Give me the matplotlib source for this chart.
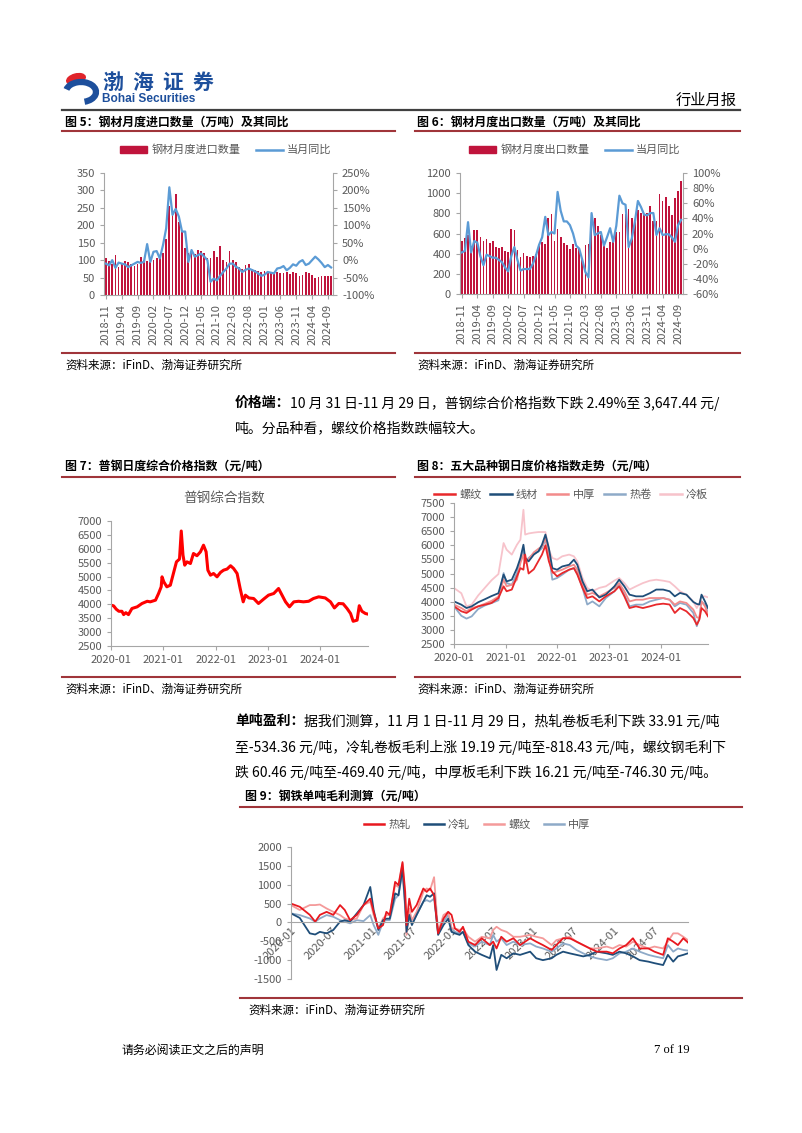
import numpy as np
import pandas as pd
import matplotlib
matplotlib.use('Agg')
import matplotlib.pyplot as plt
from matplotlib.patches import Ellipse, Arc, Patch
from matplotlib.lines import Line2D

plt.rcParams['font.family'] = ['Noto Sans CJK SC', 'DejaVu Sans']
plt.rcParams['axes.unicode_minus'] = False

# ---------------- data ----------------
# 图5 钢材月度进口数量（万吨）及同比（%），2018-11 ~ 2024-10
months_5 = pd.period_range('2018-11', periods=72, freq='M').strftime('%Y-%m').tolist()
imp_vol = [105, 98, 88, 115, 80, 88, 98, 95, 88, 82,
           90, 108, 100, 98, 95, 100, 105, 110, 120, 160,
           255, 230, 290, 210, 180, 135, 120, 130, 118, 128,
           125, 120, 105, 105, 125, 110, 140, 100, 95, 125,
           100, 95, 80, 75, 85, 88, 75, 72, 70, 65,
           68, 62, 62, 60, 65, 62, 62, 65, 60, 65,
           62, 55, 58, 65, 63, 58, 50, 52, 55, 55,
           55, 55]
imp_yoy = [-10, -15, 0, -22, -7, -10, -12, -20, -15, -10,
           -5, -8, -5, 46, -5, 24, 26, 5, 43, 91,
           209, 130, 147, 125, 82, 82, -5, 29, 10, 14,
           19, 10, 0, -62, -53, -58, -45, -34, -24, -10,
           -10, -19, -24, -34, -28, -24, -28, -32, -38, -45,
           -42, -34, -36, -38, -24, -22, -17, -29, -22, -12,
           -16, -5, 0, -14, -10, 0, 10, 2, -8, -20,
           -14, -21]

# 图6 钢材月度出口数量（万吨）及同比（%）
exp_vol = [530, 560, 590, 480, 630, 630, 570, 530, 550, 510,
           530, 470, 460, 470, 430, 420, 640, 630, 440, 370,
           410, 380, 370, 380, 400, 480, 520, 500, 750, 790,
           530, 640, 570, 510, 490, 450, 500, 460, 450, 360,
           490, 500, 780, 750, 670, 590, 500, 460, 520, 560,
           610, 610, 790, 790, 840, 750, 730, 830, 800, 790,
           800, 870, 720, 720, 990, 920, 960, 870, 780, 950,
           1020, 1120]
exp_yoy = [-5, -3, 35, -5, 10, 8, -10, -22, -8, -10,
           -12, -12, -15, -18, -25, -30, -10, 2, -15, -29,
           -27, -27, -27, -20, -9, 5, 15, 42, 18, 22,
           20, 75, 50, 36, 36, 31, 20, 4, 0, -15,
           -31, -38, 47, 18, 20, 22, 4, 15, 27, 9,
           30, 70, 60, 58, 2, 13, 35, 63, 55, 45,
           44, 47, 47, 18, 27, 18, 19, 19, 15, 9,
           31, 38]

# 图7 普钢综合指数（元/吨）；横轴为自 2020-01 起的月数
t7 = [0, 0.6, 1.2, 1.8, 2.5, 2.9, 3.4, 4.0, 4.8, 6.0,
      7.1, 8.3, 9.0, 10.2, 10.9, 11.5, 11.7, 12.1, 12.8, 13.6,
      14.2, 15.0, 15.7, 16.1, 16.5, 16.9, 17.4, 18.2, 18.9, 19.7,
      20.5, 21.2, 21.8, 22.2, 22.8, 23.5, 24.3, 25.1, 25.8, 26.6,
      27.4, 28.1, 28.9, 29.6, 30.3, 30.8, 31.6, 32.7, 33.8, 35.0,
      36.1, 37.3, 38.4, 39.2, 40.0, 40.9, 41.9, 43.0, 44.1, 45.3,
      46.4, 47.6, 49.1, 50.3, 51.2, 52.2, 53.2, 54.1, 54.9, 55.5,
      56.4, 56.9, 57.5, 58.3, 58.9]
composite = [3970, 3945, 3825, 3750, 3750, 3630, 3700, 3630, 3850, 3910,
             4030, 4110, 4090, 4150, 4390, 4630, 4990, 4810, 4630, 4690,
             5050, 5530, 5630, 6640, 5770, 5410, 5530, 5470, 5830, 5750,
             5890, 6130, 5890, 5230, 5050, 5110, 4990, 5150, 5230, 5270,
             5390, 5290, 5110, 4570, 4090, 4330, 4230, 4210, 4030, 4190,
             4330, 4390, 4570, 4330, 4090, 3910, 4090, 4110, 4090, 4110,
             4210, 4270, 4230, 4090, 3870, 4030, 4020, 3850, 3670, 3390,
             3430, 3950, 3750, 3670, 3647]

# 图8 五大品种价格指数
t8 = [0, 1.7, 2.9, 4.1, 5.6, 7.2, 8.7, 10.3, 11.5, 12.2,
      13.4, 14.6, 15.4, 16.1, 16.5, 17.3, 18.5, 19.6, 20.4, 21.2,
      22.0, 22.8, 23.9, 25.1, 26.7, 27.8, 28.6, 29.8, 30.9, 32.1,
      33.7, 35.2, 37.2, 38.3, 39.5, 40.7, 42.2, 43.8, 45.4, 46.9,
      48.5, 50.0, 51.2, 52.4, 53.9, 55.5, 56.3, 56.9, 57.4, 58.2,
      58.9]
rebar = [3835, 3660, 3600, 3720, 3835, 3895, 3955, 4130, 4545, 4370,
         4430, 4900, 5190, 5135, 5670, 5000, 5150, 5450, 5670, 6000,
         5430, 5075, 4900, 5015, 5135, 5190, 4960, 4490, 4130, 4190,
         4010, 4190, 4370, 4545, 4190, 3775, 3835, 3775, 3835, 3900,
         3930, 3900, 3600, 3775, 3660, 3420, 3185, 3365, 3775, 3660,
         3480]
wire = [4010, 3895, 3775, 3835, 3980, 4090, 4200, 4300, 4960, 4720,
        4780, 5190, 5550, 6020, 5550, 5430, 5670, 5790, 6020, 6380,
        5900, 5190, 5135, 5250, 5310, 5490, 5310, 4720, 4370, 4430,
        4150, 4250, 4545, 4780, 4545, 4250, 4190, 4190, 4300, 4430,
        4430, 4370, 4190, 4310, 4250, 3990, 3920, 3900, 4250, 4010,
        3775]
plate = [3895, 3775, 3660, 3775, 3835, 3930, 4030, 4180, 4780, 4545,
         4600, 4780, 5370, 5670, 5370, 5500, 5750, 5880, 5960, 6260,
         5670, 5015, 5075, 5135, 5250, 5310, 5135, 4600, 4250, 4310,
         4190, 4310, 4490, 4660, 4370, 4010, 4070, 4070, 4130, 4130,
         4130, 4070, 3895, 4010, 3955, 3720, 3450, 3420, 4010, 3835,
         3540]
hrc = [3835, 3500, 3400, 3480, 3740, 3870, 3950, 4050, 5015, 4660,
       4600, 5015, 5490, 5900, 5430, 5550, 5700, 5780, 5900, 6200,
       5670, 4780, 4840, 4960, 5135, 5190, 5015, 4490, 3900, 4010,
       3835, 4130, 4370, 4600, 4250, 3835, 3895, 3895, 4010, 4070,
       4130, 4070, 3835, 3955, 3895, 3600, 3130, 3420, 4010, 3895,
       3600]
crc = [4486, 4300, 3836, 3895, 4220, 4500, 4760, 4980, 6080, 5845,
       5670, 6020, 6200, 7260, 6380, 6420, 6450, 6470, 6470, 6470,
       5845, 5550, 5490, 5610, 5670, 5610, 5430, 4840, 4490, 4370,
       4490, 4545, 4750, 4840, 4660, 4430, 4545, 4660, 4745, 4780,
       4745, 4700, 4545, 4370, 4250, 4000, 3775, 3950, 4190, 4190,
       4155]

# 图9 钢铁单吨毛利（元/吨）
t9 = [0, 1.3, 2.8, 3.6, 4.3, 5.3, 6.3, 7.3, 8.0, 8.8,
      9.8, 10.8, 11.8, 12.3, 13.0, 13.7, 14.2, 14.7, 15.5, 16.0,
      16.6, 17.0, 17.2, 17.6, 18.0, 18.7, 19.7, 20.2, 20.7, 21.3,
      21.9, 22.7, 23.4, 23.9, 24.4, 25.1, 25.6, 26.4, 27.4, 28.4,
      29.6, 30.1, 30.6, 31.3, 32.1, 33.1, 34.1, 35.6, 36.5, 37.5,
      38.8, 39.5, 40.5, 41.5, 42.5, 43.5, 44.5, 45.5, 47.0, 47.9,
      48.9, 49.9, 50.9, 51.9, 53.2, 54.1, 55.4, 56.1, 56.9, 57.6,
      58.4, 59.1]
hot_rolled = [500, 415, 200, 20, 200, 280, 200, 460, 330, 60,
              200, 460, 630, 280, -160, -70, 280, 200, 1075, 990,
              1600, 810, -70, 630, 280, 460, 900, 810, 900, 720,
              -290, 100, 280, 200, -160, -250, -115, -510, -600, -420,
              -600, -510, -690, -380, -510, -420, -600, -420, -510, -600,
              -730, -600, -420, -420, -510, -600, -690, -775, -775, -820,
              -690, -600, -420, -690, -690, -775, -860, -420, -510, -600,
              -420, -534]
cold_rolled = [240, 120, -290, -320, -250, -290, -200, 20, 60, 20,
               240, 460, 940, 330, -200, 60, 100, 100, 770, 720,
               1430, 460, -250, 200, -70, 200, 550, 720, 680, 770,
               -330, -70, 100, -250, -290, -330, -250, -600, -775, -860,
               -950, -600, -1260, -860, -950, -820, -860, -775, -950, -1000,
               -950, -860, -775, -820, -860, -900, -860, -775, -820, -860,
               -775, -820, -900, -1000, -1040, -1080, -1130, -860, -1040, -900,
               -860, -818]
rebar_margin = [460, 330, 460, 460, 475, 370, 280, 195, 105, 60,
                105, 460, 550, 195, -160, 105, 195, 195, 990, 940,
                1560, 630, -330, 370, 60, 280, 810, 900, 855, 1200,
                -250, 195, 280, -160, -160, -200, -160, -380, -510, -380,
                -420, -200, -115, -200, -250, -380, -380, -330, -380, -420,
                -600, -470, -420, -380, -510, -600, -690, -690, -640, -690,
                -600, -640, -510, -600, -690, -640, -690, -510, -290, -290,
                -380, -470]
plate_margin = [240, 195, 105, 20, 105, 195, 150, 60, 20, -25,
                60, 35, 195, -70, -330, 20, 60, 60, 630, 720,
                1340, 370, -160, 105, -25, 195, 550, 590, 550, 630,
                -290, 20, 195, -160, -250, -290, -250, -555, -640, -510,
                -600, -330, -510, -420, -600, -510, -600, -555, -640, -690,
                -775, -690, -555, -600, -730, -820, -900, -950, -1000, -950,
                -820, -775, -690, -775, -860, -900, -950, -600, -775, -690,
                -730, -746]

year_ticks = [0, 12, 24, 36, 48]
year_labels = ['2020-01', '2021-01', '2022-01', '2023-01', '2024-01']
half_ticks = [0, 6, 12, 18, 24, 30, 36, 42, 48, 54]
half_labels = ['2020-01', '2020-07', '2021-01', '2021-07', '2022-01',
               '2022-07', '2023-01', '2023-07', '2024-01', '2024-07']

# ---------------- layout helpers ----------------
W, H = 802, 1133
fig = plt.figure(figsize=(W / 100, H / 100), dpi=100)
fig.patch.set_facecolor('white')

def box(l, t, r, b):
    return [l / W, 1 - b / H, (r - l) / W, (b - t) / H]

def fpos(x, y):
    return (x / W, 1 - y / H)

page = fig.add_axes([0, 0, 1, 1])
page.set_xlim(0, W)
page.set_ylim(H, 0)
page.axis('off')

RULE = '#a0353a'
AXC = '#a6a6a6'
TKC = '#595959'
BAR = '#c0143c'
BLUE = '#5b9bd5'

def style(ax):
    ax.spines['top'].set_visible(False)
    ax.spines['right'].set_visible(False)
    for s in ['left', 'bottom']:
        ax.spines[s].set_color(AXC)
        ax.spines[s].set_linewidth(0.8)
    ax.tick_params(colors=AXC, labelcolor=TKC, labelsize=8, length=3, width=0.8)
    ax.set_facecolor('none')

# ---------------- header ----------------
page.add_patch(Ellipse((76, 79), 19, 10, angle=-15, color='#e0242b'))
page.add_patch(Arc((81, 92), 30, 20, theta1=190, theta2=70, lw=4.5, color='#1d4f9c'))
for i, ch in enumerate('渤海证券'):
    page.text(102 + i * 30, 82, ch, fontsize=15, fontweight='bold', color='#1d4f9c', va='center')
page.text(102, 99, 'Bohai Securities', fontsize=8.6, fontweight='bold', color='#1d4f9c',
          va='center', family=['Liberation Sans'])
page.text(737, 100, '行业月报', fontsize=11, ha='right', va='center')
page.plot([62, 740], [110, 110], color='#404040', lw=1.6)

def fig_title(x, y, s):
    page.text(x, y, s, fontsize=8.6, fontweight='bold', va='center')

def source(x, y):
    page.text(x, y, '资料来源：iFinD、渤海证券研究所', fontsize=8.3, style='italic', va='center')

def rule(x0, x1, y):
    page.plot([x0, x1], [y, y], color=RULE, lw=1.5)

fig_title(65, 122, '图 5：钢材月度进口数量（万吨）及其同比')
fig_title(417, 122, '图 6：钢材月度出口数量（万吨）及其同比')
rule(62, 395, 131)
rule(415, 740, 131)
rule(62, 395, 353)
rule(415, 740, 353)
source(65, 365)
source(417, 365)

renderer = fig.canvas.get_renderer()

def para(x, y, bold, rest, size=10):
    x1 = x
    if bold:
        t = page.text(x, y, bold, fontsize=size, fontweight='bold', va='center')
        x1 = t.get_window_extent(renderer).x1
    page.text(x1, y, rest, fontsize=size, va='center')

PX = 235
para(PX, 403, '价格端：', '10 月 31 日-11 月 29 日，普钢综合价格指数下跌 2.49%至 3,647.44 元/')
para(PX, 428, '', '吨。分品种看，螺纹价格指数跌幅较大。')

fig_title(65, 467, '图 7：普钢日度综合价格指数（元/吨）')
fig_title(417, 467, '图 8：五大品种钢日度价格指数走势（元/吨）')
rule(62, 395, 477)
rule(415, 740, 477)
rule(62, 395, 677)
rule(415, 740, 677)
source(65, 689)
source(417, 689)

para(PX, 721, '单吨盈利：', '据我们测算，11 月 1 日-11 月 29 日，热轧卷板毛利下跌 33.91 元/吨')
para(PX, 747, '', '至-534.36 元/吨，冷轧卷板毛利上涨 19.19 元/吨至-818.43 元/吨，螺纹钢毛利下')
para(PX, 773, '', '跌 60.46 元/吨至-469.40 元/吨，中厚板毛利下跌 16.21 元/吨至-746.30 元/吨。')

fig_title(245, 797, '图 9：钢铁单吨毛利测算（元/吨）')
rule(240, 742, 807)
rule(240, 742, 998)
source(248, 1010)

page.text(122, 1050, '请务必阅读正文之后的声明', fontsize=8.6, va='center')
page.text(690, 1050, '7 of 19', fontsize=9, ha='right', va='center', family=['Liberation Serif'])

# ---------------- 图5 / 图6 ----------------
def bar_yoy(rect, vol, yoy, vmax, vstep, ymin, ymax, ystep, name, legend_xy):
    ax = fig.add_axes(box(*rect))
    x = np.arange(len(months_5))
    ax.bar(x, vol, width=0.55, color=BAR, zorder=1)
    ax.set_xlim(-0.6, len(x) - 0.4)
    ax.set_ylim(0, vmax)
    ax.set_yticks(np.arange(0, vmax + 1, vstep))
    ax.set_xticks(x[::5])
    ax.set_xticklabels(months_5[::5], rotation=90, fontsize=7.6)
    style(ax)
    axr = ax.twinx()
    axr.plot(x, yoy, color=BLUE, lw=1.6)
    axr.set_ylim(ymin, ymax)
    axr.set_yticks(np.arange(ymin, ymax + 1, ystep))
    axr.set_yticklabels([f'{v}%' for v in range(ymin, ymax + 1, ystep)])
    for s in ['top', 'left', 'bottom']:
        axr.spines[s].set_visible(False)
    axr.spines['right'].set_color(AXC)
    axr.spines['right'].set_linewidth(0.8)
    axr.tick_params(colors=AXC, labelcolor=TKC, labelsize=8, length=3, width=0.8)
    handles = [Patch(color=BAR), Line2D([], [], color=BLUE, lw=1.8)]
    fig.legend(handles, [name, '当月同比'], loc='center', bbox_to_anchor=fpos(*legend_xy),
               ncol=2, frameon=False, fontsize=8, labelcolor=TKC, handlelength=2.4,
               handleheight=0.5, columnspacing=1.4, handletextpad=0.4)

bar_yoy((104, 173, 333, 295), imp_vol, imp_yoy, 350, 50, -100, 250, 50,
        '钢材月度进口数量', (226, 150))
bar_yoy((460, 173, 683, 294), exp_vol, exp_yoy, 1200, 200, -60, 100, 20,
        '钢材月度出口数量', (575, 150))

# ---------------- 图7 ----------------
ax7 = fig.add_axes(box(111, 521, 368, 646))
ax7.plot(t7, composite, color='#ff0000', lw=2.2)
ax7.set_xlim(0, 58.9)
ax7.set_ylim(2500, 7000)
ax7.set_yticks(np.arange(2500, 7001, 500))
ax7.set_xticks(year_ticks)
ax7.set_xticklabels(year_labels)
style(ax7)
page.text(224, 498, '普钢综合指数', fontsize=9.8, color=TKC, ha='center', va='center')

# ---------------- 图8 ----------------
ax8 = fig.add_axes(box(454, 503, 708, 644))
series8 = [('螺纹', rebar, '#e8282b'), ('线材', wire, '#1f4e79'), ('中厚', plate, '#f28b8b'),
           ('热卷', hrc, '#8eaac8'), ('冷板', crc, '#f7c3cb')]
for name, vals, c in reversed(series8):
    ax8.plot(t8, vals, color=c, lw=1.3, label=name)
ax8.set_xlim(0, 58.9)
ax8.set_ylim(2500, 7500)
ax8.set_yticks(np.arange(2500, 7501, 500))
ax8.set_xticks(year_ticks)
ax8.set_xticklabels(year_labels)
style(ax8)
fig.legend([Line2D([], [], color=c, lw=1.8) for _, _, c in series8], [n for n, _, _ in series8],
           loc='center', bbox_to_anchor=fpos(571, 495), ncol=5, frameon=False, fontsize=8,
           labelcolor=TKC, handlelength=1.9, columnspacing=0.8, handletextpad=0.4)

# ---------------- 图9 ----------------
ax9 = fig.add_axes(box(291, 847, 688, 979))
series9 = [('热轧', hot_rolled, '#e8181f'), ('冷轧', cold_rolled, '#1f4e79'),
           ('螺纹', rebar_margin, '#f49a9a'), ('中厚', plate_margin, '#8eaac8')]
for name, vals, c in [series9[3], series9[2], series9[1], series9[0]]:
    ax9.plot(t9, vals, color=c, lw=1.3)
style(ax9)
ax9.spines['bottom'].set_position(('data', 0))
ax9.set_xlim(0, 59.1)
ax9.set_ylim(-1500, 2000)
ax9.set_yticks(np.arange(-1500, 2001, 500))
ax9.set_xticks(half_ticks)
ax9.set_xticklabels(half_labels, rotation=45, ha='right', va='top', rotation_mode='anchor')
ax9.tick_params(axis='x', length=0, pad=2)
fig.legend([Line2D([], [], color=c, lw=1.8) for _, _, c in series9], [n for n, _, _ in series9],
           loc='center', bbox_to_anchor=fpos(477, 825), ncol=4, frameon=False, fontsize=8,
           labelcolor=TKC, handlelength=1.8, columnspacing=1.2, handletextpad=0.4)

fig.savefig('out.png', dpi=100, facecolor='white')
